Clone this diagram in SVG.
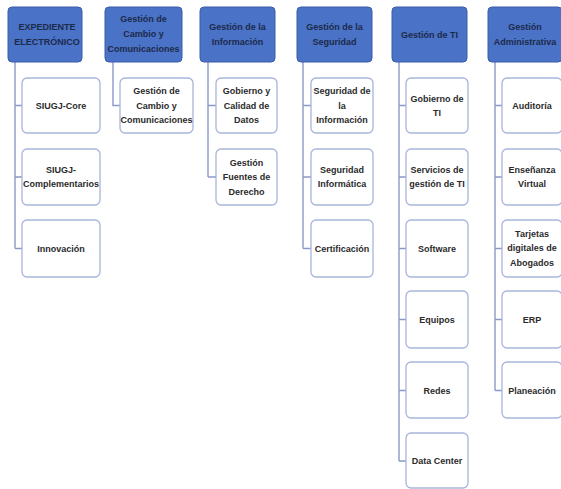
<svg xmlns="http://www.w3.org/2000/svg" width="561" height="489" viewBox="0 0 561 489">
<style>
.hd{fill:#4a72c6;stroke:#3a5da8;stroke-width:1}
.ch{fill:#ffffff;stroke:#a9b5da;stroke-width:1.3}
.t{font-family:"Liberation Sans",Arial,sans-serif;font-size:9px;font-weight:bold;fill:#2b2b2b;text-anchor:middle}
.th{font-family:"Liberation Sans",Arial,sans-serif;font-size:9px;font-weight:bold;fill:#1c2a4a;text-anchor:middle}
.cn{fill:none;stroke:#8c99c9;stroke-width:1.4}
</style>
<rect width="561" height="489" fill="#ffffff"/>
<g id="connectors">
<path class="cn" d="M15 62V248.5M15 105.5H22M15 177H22M15 248.5H22"/>
<path class="cn" d="M113 62V105.5H120"/>
<path class="cn" d="M208 62V177M208 105.5H216M208 177H216"/>
<path class="cn" d="M303 62V248.5M303 105.5H311M303 177H311M303 248.5H311"/>
<path class="cn" d="M399 62V461M399 105.5H406M399 177H406M399 248.5H406M399 319.5H406M399 390.5H406M399 461H406"/>
<path class="cn" d="M495 62V390.5M495 105.5H502M495 177H502M495 248.5H502M495 319.5H502M495 390.5H502"/>
</g>
<g id="h1"><rect class="hd" x="8" y="7" width="74" height="55" rx="4"/><text class="th" x="47" y="30">EXPEDIENTE</text><text class="th" x="47" y="45">ELECTRÓNICO</text></g>
<g id="h2"><rect class="hd" x="105" y="7" width="77" height="55" rx="4"/><text class="th" x="143.5" y="22">Gestión de</text><text class="th" x="143.5" y="37">Cambio y</text><text class="th" x="143.5" y="52">Comunicaciones</text></g>
<g id="h3"><rect class="hd" x="200" y="7" width="75" height="55" rx="4"/><text class="th" x="237.5" y="30">Gestión de la</text><text class="th" x="237.5" y="45">Información</text></g>
<g id="h4"><rect class="hd" x="297" y="7" width="75" height="55" rx="4"/><text class="th" x="334.5" y="30">Gestión de la</text><text class="th" x="334.5" y="45">Seguridad</text></g>
<g id="h5"><rect class="hd" x="392" y="7" width="75" height="55" rx="4"/><text class="th" x="429.5" y="37.5">Gestión de TI</text></g>
<g id="h6"><rect class="hd" x="488" y="7" width="74" height="55" rx="4"/><text class="th" x="525" y="30">Gestión</text><text class="th" x="525" y="45">Administrativa</text></g>

<g id="c1a"><rect class="ch" x="22" y="78" width="78" height="55" rx="5"/><text class="t" x="61" y="108.5">SIUGJ-Core</text></g>
<g id="c1b"><rect class="ch" x="22" y="149" width="78" height="56" rx="5"/><text class="t" x="61" y="172.5">SIUGJ-</text><text class="t" x="61" y="186.5">Complementarios</text></g>
<g id="c1c"><rect class="ch" x="22" y="220" width="78" height="57" rx="5"/><text class="t" x="61" y="251.5">Innovación</text></g>

<g id="c2a"><rect class="ch" x="120" y="78" width="73" height="55" rx="5"/><text class="t" x="156.5" y="94">Gestión de</text><text class="t" x="156.5" y="108.5">Cambio y</text><text class="t" x="156.5" y="123">Comunicaciones</text></g>

<g id="c3a"><rect class="ch" x="216" y="78" width="61" height="55" rx="5"/><text class="t" x="246.5" y="94">Gobierno y</text><text class="t" x="246.5" y="108.5">Calidad de</text><text class="t" x="246.5" y="123">Datos</text></g>
<g id="c3b"><rect class="ch" x="216" y="149" width="61" height="56" rx="5"/><text class="t" x="246.5" y="165.5">Gestión</text><text class="t" x="246.5" y="180">Fuentes de</text><text class="t" x="246.5" y="194.5">Derecho</text></g>

<g id="c4a"><rect class="ch" x="311" y="78" width="62" height="55" rx="5"/><text class="t" x="342" y="94">Seguridad de</text><text class="t" x="342" y="108.5">la</text><text class="t" x="342" y="123">Información</text></g>
<g id="c4b"><rect class="ch" x="311" y="149" width="62" height="56" rx="5"/><text class="t" x="342" y="172.5">Seguridad</text><text class="t" x="342" y="186.5">Informática</text></g>
<g id="c4c"><rect class="ch" x="311" y="220" width="62" height="57" rx="5"/><text class="t" x="342" y="251.5">Certificación</text></g>

<g id="c5a"><rect class="ch" x="406" y="78" width="62" height="55" rx="5"/><text class="t" x="437" y="101.5">Gobierno de</text><text class="t" x="437" y="115.5">TI</text></g>
<g id="c5b"><rect class="ch" x="406" y="149" width="62" height="56" rx="5"/><text class="t" x="437" y="172.5">Servicios de</text><text class="t" x="437" y="186.5">gestión de TI</text></g>
<g id="c5c"><rect class="ch" x="406" y="220" width="62" height="57" rx="5"/><text class="t" x="437" y="251.5">Software</text></g>
<g id="c5d"><rect class="ch" x="406" y="291" width="62" height="57" rx="5"/><text class="t" x="437" y="322.5">Equipos</text></g>
<g id="c5e"><rect class="ch" x="406" y="362" width="62" height="56" rx="5"/><text class="t" x="437" y="393.5">Redes</text></g>
<g id="c5f"><rect class="ch" x="406" y="433" width="62" height="55" rx="5"/><text class="t" x="437" y="464">Data Center</text></g>

<g id="c6a"><rect class="ch" x="502" y="78" width="60" height="55" rx="5"/><text class="t" x="532" y="108.5">Auditoría</text></g>
<g id="c6b"><rect class="ch" x="502" y="149" width="60" height="56" rx="5"/><text class="t" x="532" y="172.5">Enseñanza</text><text class="t" x="532" y="186.5">Virtual</text></g>
<g id="c6c"><rect class="ch" x="502" y="220" width="60" height="57" rx="5"/><text class="t" x="532" y="236.5">Tarjetas</text><text class="t" x="532" y="251">digitales de</text><text class="t" x="532" y="265.5">Abogados</text></g>
<g id="c6d"><rect class="ch" x="502" y="291" width="60" height="57" rx="5"/><text class="t" x="532" y="322.5">ERP</text></g>
<g id="c6e"><rect class="ch" x="502" y="362" width="60" height="56" rx="5"/><text class="t" x="532" y="393.5">Planeación</text></g>
</svg>
